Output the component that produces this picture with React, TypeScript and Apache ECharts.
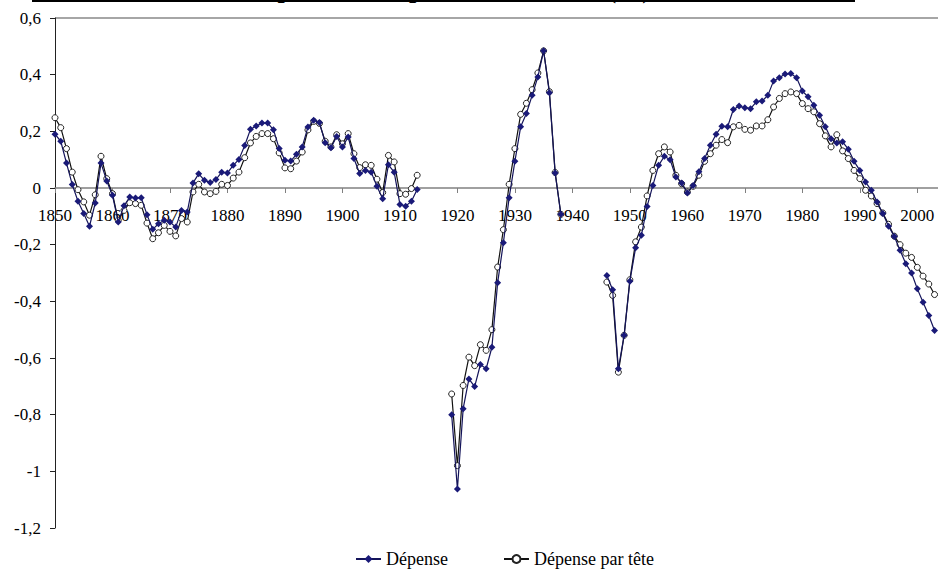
import React, { useEffect, useRef } from "react";
import * as echarts from "echarts";

const TITLE = "Écart à la tendance, dépenses et dépenses en volume (%)";
const SERIES_NAMES = ["Dépense", "Dépense par tête"];

// segment start years
const START_1 = 1850;
const START_2 = 1919;
const START_3 = 1946;
const END_YEAR = 2003;

const depense1 = [
  0.19, 0.165, 0.088, 0.012, -0.047, -0.09, -0.135, -0.053, 0.088, 0.025,
  -0.026, -0.12, -0.063, -0.032, -0.035, -0.034, -0.094, -0.146, -0.126, -0.114,
  -0.12, -0.138, -0.079, -0.085, 0.018, 0.05, 0.027, 0.019, 0.03, 0.056,
  0.053, 0.08, 0.101, 0.15, 0.207, 0.219, 0.229, 0.229, 0.206, 0.139,
  0.098, 0.095, 0.119, 0.145, 0.215, 0.239, 0.231, 0.16, 0.142, 0.182,
  0.145, 0.18, 0.104, 0.051, 0.062, 0.056, 0.006, -0.038, 0.082, 0.056,
  -0.058, -0.064, -0.047, -0.005,
];
const parTete1 = [
  0.248, 0.213, 0.139, 0.056, -0.006, -0.049, -0.096, -0.024, 0.112, 0.033,
  -0.02, -0.114, -0.079, -0.052, -0.055, -0.061, -0.124, -0.179, -0.158, -0.132,
  -0.153, -0.169, -0.108, -0.12, -0.014, 0.013, -0.014, -0.02, -0.012, 0.013,
  0.009, 0.035, 0.056, 0.107, 0.159, 0.182, 0.192, 0.192, 0.174, 0.124,
  0.071, 0.068, 0.095, 0.127, 0.205, 0.235, 0.228, 0.165, 0.145, 0.188,
  0.156, 0.192, 0.121, 0.072, 0.082, 0.08, 0.031, -0.016, 0.115, 0.092,
  -0.02, -0.022, -0.002, 0.045,
];
const depense2 = [
  -0.8, -1.062, -0.779, -0.674, -0.701, -0.623, -0.638, -0.562, -0.334, -0.193,
  -0.034, 0.094, 0.216, 0.263, 0.327, 0.392, 0.484, 0.336, 0.053, -0.093,
];
const parTete2 = [
  -0.727, -0.98, -0.697, -0.597, -0.627, -0.553, -0.573, -0.5, -0.279, -0.147,
  0.013, 0.139, 0.26, 0.299, 0.347, 0.406, 0.484, 0.34, 0.055, -0.093,
];
const depense3 = [
  -0.309, -0.359, -0.638, -0.52, -0.329, -0.211, -0.167, -0.065, 0.009, 0.08,
  0.112, 0.1, 0.039, 0.018, -0.018, 0.009, 0.057, 0.104, 0.151, 0.19,
  0.218, 0.216, 0.277, 0.289, 0.283, 0.28, 0.304, 0.307, 0.327, 0.378,
  0.389, 0.402, 0.404, 0.389, 0.342, 0.322, 0.292, 0.257, 0.216, 0.174,
  0.159, 0.163, 0.137, 0.094, 0.062, 0.021, -0.008, -0.049, -0.09, -0.135,
  -0.171, -0.22, -0.267, -0.3, -0.356, -0.403, -0.45, -0.503,
];
const parTete3 = [
  -0.332, -0.379, -0.65, -0.52, -0.324, -0.19, -0.138, -0.028, 0.062, 0.121,
  0.145, 0.127, 0.045, 0.015, -0.014, 0.006, 0.045, 0.094, 0.121, 0.151,
  0.171, 0.16, 0.216, 0.221, 0.207, 0.204, 0.219, 0.219, 0.241, 0.286,
  0.316, 0.333, 0.339, 0.333, 0.298, 0.28, 0.269, 0.227, 0.184, 0.145,
  0.188, 0.131, 0.104, 0.062, 0.033, -0.008, -0.028, -0.055, -0.088, -0.128,
  -0.17, -0.2, -0.23, -0.245, -0.28, -0.311, -0.339, -0.376,
];

function buildSeries(segments: { start: number; values: number[] }[]) {
  const out: (number | null)[][] = [];
  segments.forEach((seg, i) => {
    seg.values.forEach((v, k) => out.push([seg.start + k, v]));
    if (i < segments.length - 1) {
      out.push([seg.start + seg.values.length, null]);
    }
  });
  return out;
}

const SERIF = "'Liberation Serif', 'Times New Roman', serif";

const GRID_TOP = 18;
const GRID_BOTTOM = 44;
const CHART_H = 572;
const Y_MIN = -1.2;
const Y_MAX = 0.6;

export default function App() {
  const ref = useRef<HTMLDivElement>(null);
  useEffect(() => {
    if (!ref.current) return;
    const chart = echarts.init(ref.current, undefined, { renderer: "svg" });
    const depData = buildSeries([
      { start: START_1, values: depense1 },
      { start: START_2, values: depense2 },
      { start: START_3, values: depense3 },
    ]);
    const ptData = buildSeries([
      { start: START_1, values: parTete1 },
      { start: START_2, values: parTete2 },
      { start: START_3, values: parTete3 },
    ]);
    // shift the x axis from the grid bottom up to the value 0
    const plotH = CHART_H - GRID_TOP - GRID_BOTTOM;
    const zeroOffset = -(plotH * (0 - Y_MIN)) / (Y_MAX - Y_MIN);
    chart.setOption({
      animation: false,
      backgroundColor: "#ffffff",
      grid: { left: 55, right: 0, top: GRID_TOP, bottom: GRID_BOTTOM },
      graphic: [
        {
          type: "text",
          x: 24,
          y: -11,
          style: {
            text: TITLE,
            font: "bold 26px " + SERIF,
            fill: "#000",
            textAlign: "left",
            textVerticalAlign: "middle",
          },
        },
        {
          type: "rect",
          shape: { x: 32, y: 0, width: 823, height: 2 },
          style: { fill: "#000" },
        },
        {
          type: "line",
          shape: { x1: 55, y1: 18, x2: 938, y2: 18 },
          style: { stroke: "#a6a6a6", lineWidth: 2 },
        },
      ],
      legend: {
        data: SERIES_NAMES,
        left: 350,
        top: 545,
        itemGap: 55,
        itemWidth: 25,
        itemHeight: 10,
        textStyle: { fontFamily: SERIF, fontSize: 18, color: "#000" },
      },
      xAxis: {
        type: "value",
        position: "bottom",
        offset: zeroOffset,
        min: START_1,
        max: END_YEAR + 0.6,
        interval: 10,
        axisLine: { onZero: false, lineStyle: { color: "#808080", width: 1.5 } },
        axisTick: { show: true, length: 5, lineStyle: { color: "#808080" } },
        axisLabel: {
          margin: 19,
          fontSize: 17,
          fontFamily: SERIF,
          color: "#000",
          showMaxLabel: false,
          formatter: (v: number) => String(v),
        },
        splitLine: { show: false },
      },
      yAxis: {
        type: "value",
        min: Y_MIN,
        max: Y_MAX,
        interval: 0.2,
        axisLine: { show: true, lineStyle: { color: "#222", width: 1 } },
        axisTick: { show: true, length: 5, lineStyle: { color: "#222" } },
        axisLabel: {
          margin: 14,
          fontSize: 17,
          fontFamily: SERIF,
          color: "#000",
          formatter: (v: number) => String(Math.round(v * 10) / 10).replace(".", ","),
        },
        splitLine: { show: false },
      },
      series: [
        {
          name: SERIES_NAMES[1],
          type: "line",
          data: ptData,
          symbol: "circle",
          symbolSize: 6,
          showAllSymbol: true,
          connectNulls: false,
          z: 2,
          itemStyle: { color: "#ffffff", borderColor: "#222", borderWidth: 1 },
          lineStyle: { color: "#111", width: 1.2 },
        },
        {
          name: SERIES_NAMES[0],
          type: "line",
          data: depData,
          symbol: "diamond",
          symbolSize: 7,
          showAllSymbol: true,
          connectNulls: false,
          z: 3,
          itemStyle: { color: "#1a1a78" },
          lineStyle: { color: "#14145a", width: 1.2 },
        },
      ],
    });
    return () => chart.dispose();
  }, []);
  return (
    <div
      ref={ref}
      style={{ position: "absolute", left: 0, top: 0, width: 938, height: 572 }}
    />
  );
}
